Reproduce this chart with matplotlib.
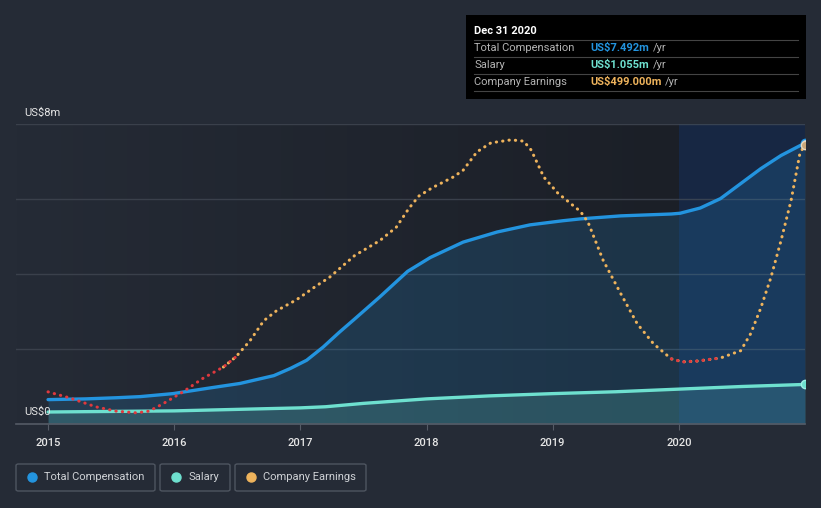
import numpy as np
import matplotlib.pyplot as plt
from matplotlib.patches import Rectangle, FancyBboxPatch
from matplotlib.colors import LinearSegmentedColormap

plt.rcParams['font.family'] = ['Roboto', 'DejaVu Sans']

# data (years as decimals, values in US$ millions)
comp_x = [2015.0, 2015.3, 2015.54, 2015.73, 2015.99, 2016.26, 2016.52, 2016.79, 2016.92,
          2017.05, 2017.18, 2017.31, 2017.42, 2017.63, 2017.85, 2018.03, 2018.29, 2018.56,
          2018.82, 2019.08, 2019.22, 2019.54, 2019.94, 2020.01, 2020.17, 2020.33, 2020.49,
          2020.65, 2020.81, 2021.0]
comp_y = [0.65, 0.67, 0.70, 0.73, 0.81, 0.95, 1.08, 1.29, 1.48,
          1.70, 2.05, 2.45, 2.77, 3.39, 4.07, 4.44, 4.85, 5.12,
          5.31, 5.42, 5.47, 5.55, 5.60, 5.62, 5.76, 6.01, 6.41,
          6.81, 7.16, 7.492]

sal_x = [2015.0, 2016.0, 2017.0, 2017.2, 2017.5, 2018.0, 2018.5, 2019.0, 2019.5, 2020.0, 2020.5, 2021.0]
sal_y = [0.32, 0.35, 0.43, 0.46, 0.55, 0.67, 0.75, 0.81, 0.86, 0.93, 1.00, 1.055]

earn_x = [2015.0, 2015.17, 2015.38, 2015.54, 2015.70, 2015.80, 2015.91, 2016.07, 2016.23,
          2016.39, 2016.49, 2016.60, 2016.71, 2016.81, 2016.97, 2017.13, 2017.23, 2017.43,
          2017.63, 2017.76, 2017.86, 2017.94, 2018.05, 2018.21, 2018.29, 2018.40, 2018.51,
          2018.67, 2018.77, 2018.83, 2018.93, 2019.04, 2019.14, 2019.22, 2019.28, 2019.40,
          2019.54, 2019.67, 2019.80, 2019.94, 2020.03, 2020.15, 2020.33, 2020.49, 2020.57,
          2020.65, 2020.73, 2020.81, 2020.89, 2020.96, 2021.0]
earn_y = [-77, -91, -112, -122, -126, -122, -105, -77, -45,
          -19, 5, 42, 89, 112, 138, 171, 190, 241,
          276, 307, 351, 380, 400, 424, 440, 483, 504,
          511, 508, 487, 424, 387, 363, 344, 319, 230,
          152, 82, 35, 0, -7, -5, 2, 19, 59,
          119, 190, 276, 370, 480, 499]

years = [2015, 2016, 2017, 2018, 2019, 2020]

BG = '#252b36'
BLUE = '#2394df'
TEAL = '#6ee0cf'
GOLD = '#eeb35c'
RED = '#e0393e'

W, H = 821, 508
fig = plt.figure(figsize=(W / 100, H / 100), dpi=100, facecolor=BG)

def fx(px):
    return px / W

def fy(py):
    return 1 - py / H

ax = fig.add_axes([fx(16), fy(424), fx(805) - fx(16), fy(124) - fy(424)])
ax.set_xlim(2014.746, 2021.0)
ax.set_ylim(0, 8)
ax.set_facecolor(BG)

# background gradient, darker towards 2020
cm = LinearSegmentedColormap.from_list('bg', [BG, '#1b1f27'])
grad = np.linspace(0, 1, 256).reshape(1, -1)
ax.imshow(grad, cmap=cm, extent=[2014.746, 2020.0, 0, 8], aspect='auto', zorder=0)
# highlighted last year
ax.add_patch(Rectangle((2020.0, 0), 1.0, 8, color='#16223a', zorder=0.5, lw=0))

for g in [2, 4, 6, 8]:
    ax.axhline(g, color='#3a404b', lw=1, zorder=1)

ax.fill_between(comp_x, 0, comp_y, color=BLUE, alpha=0.18, lw=0, zorder=1.5)
ax.fill_between(sal_x, 0, sal_y, color=TEAL, alpha=0.18, lw=0, zorder=1.6)
ax.add_patch(Rectangle((2020.0, 0), 1.0, 8, color='#2a6ab0', alpha=0.08, zorder=1.7, lw=0))

ax.plot(comp_x, comp_y, color=BLUE, lw=2.4, zorder=3, solid_capstyle='round', solid_joinstyle='round')
ax.plot(sal_x, sal_y, color=TEAL, lw=2.4, zorder=3, solid_capstyle='round', solid_joinstyle='round')
ax.plot(comp_x[-1], comp_y[-1], 'o', ms=6, mfc='#9fd0f5', mec=BLUE, mew=1, zorder=4)
ax.plot(sal_x[-1], sal_y[-1], 'o', ms=6, mfc=TEAL, mec='#a0f0e6', mew=1, zorder=4)

for s in ax.spines.values():
    s.set_visible(False)
ax.axhline(0, color='#555b66', lw=1.2, zorder=5, clip_on=False)
ax.set_yticks([])
ax.set_xticks(years)
ax.set_xticklabels([str(y) for y in years], color='#e6e6e6', fontsize=8, fontweight='medium')
ax.tick_params(axis='x', length=4, color='#555b66', pad=6)

# earnings on its own scale
ax2 = ax.twinx()
ax2.set_ylim(-152, 548)
ax2.set_xlim(2014.746, 2021.0)
ax2.axis('off')
e = np.array(earn_y, dtype=float)
ex = np.array(earn_x)
neg = e < 0
gold_y = np.where(~neg, e, np.nan)
red_y = np.where(neg, e, np.nan)
for i in range(len(e)):
    near_pos = (i > 0 and not neg[i - 1]) or (i < len(e) - 1 and not neg[i + 1])
    near_neg = (i > 0 and neg[i - 1]) or (i < len(e) - 1 and neg[i + 1])
    if neg[i] and near_pos:
        gold_y[i] = e[i]
    if not neg[i] and near_neg:
        red_y[i] = e[i]
ax2.plot(ex, gold_y, color=GOLD, lw=2.2, dashes=(0.1, 2.0), dash_capstyle='round', zorder=3)
ax2.plot(ex, red_y, color=RED, lw=2.2, dashes=(0.1, 2.0), dash_capstyle='round', zorder=3)
ax2.plot(ex[-1], e[-1], 'o', ms=6, mfc='#c9a77a', mec='#e8d8c0', mew=1, zorder=4)

# y labels
fig.text(fx(24), fy(113), 'US$8m', color='#e6e6e6', fontsize=8, va='center', ha='left')
fig.text(fx(24), fy(412), 'US$0', color='#e6e6e6', fontsize=8, va='center', ha='left')

# tooltip
fig.add_artist(Rectangle((fx(466), fy(99)), fx(806) - fx(466), fy(15) - fy(99),
                         transform=fig.transFigure, color='black', lw=0))
fig.text(fx(474), fy(31), 'Dec 31 2020', color='white', fontsize=8, fontweight='bold', va='center')
for ly in [40, 57, 74, 91]:
    fig.add_artist(plt.Line2D([fx(474), fx(798)], [fy(ly), fy(ly)], transform=fig.transFigure,
                              color='#444444', lw=0.8))
rows = [('Total Compensation', 'US$7.492m', BLUE, 48, 653),
        ('Salary', 'US$1.055m', TEAL, 65, 653),
        ('Company Earnings', 'US$499.000m', GOLD, 82, 665)]
for label, val, col, ry, px in rows:
    fig.text(fx(474), fy(ry), label, color='#b4b4b4', fontsize=8, va='center')
    fig.text(fx(590), fy(ry), val, color=col, fontsize=8, fontweight='bold', va='center')
    fig.text(fx(px), fy(ry), '/yr', color='#b4b4b4', fontsize=8, va='center')

# legend
items = [('Total Compensation', BLUE, 16, 155),
         ('Salary', TEAL, 160, 230),
         ('Company Earnings', GOLD, 235, 366)]
for label, col, x0, x1 in items:
    fig.add_artist(FancyBboxPatch((fx(x0), fy(491)), fx(x1) - fx(x0), fy(464) - fy(491),
                                  boxstyle='round,pad=0,rounding_size=0.003',
                                  transform=fig.transFigure, fc='none', ec='#4e5560', lw=1))
    fig.add_artist(plt.Line2D([fx(x0 + 16)], [fy(477)], marker='o', ms=6.5, color=col,
                              transform=fig.transFigure, lw=0))
    fig.text(fx(x0 + 28), fy(477), label, color='#cfd2d6', fontsize=8, va='center')

fig.savefig('out.png', dpi=100, facecolor=BG)
